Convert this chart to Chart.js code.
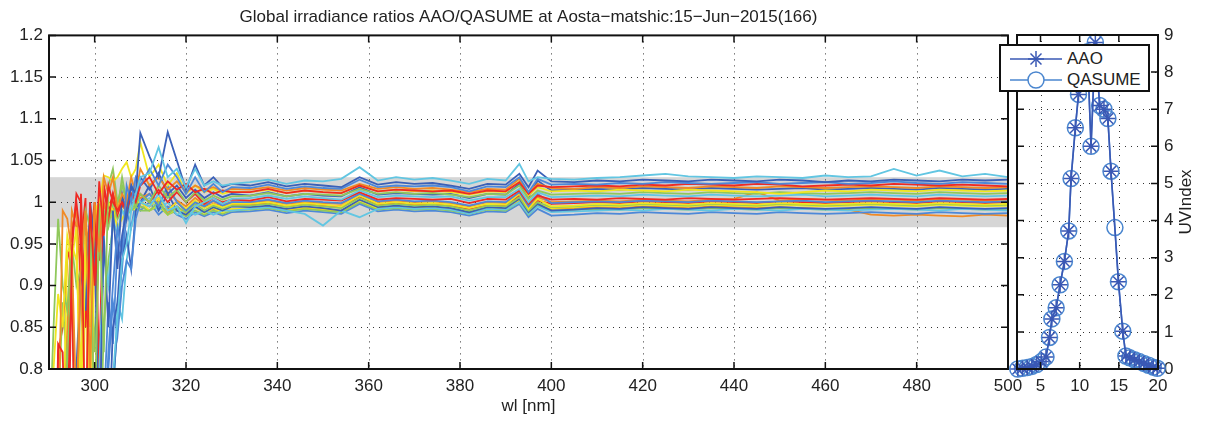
<!DOCTYPE html>
<html>
<head>
<meta charset="utf-8">
<script src="https://cdn.jsdelivr.net/npm/chart.js@4"></script>
<style>
  html, body { margin: 0; padding: 0; background: #fff; }
  #wrap { position: relative; width: 1213px; height: 423px; overflow: hidden; }
  #wrap canvas { position: absolute; left: 0; top: 0; }
  #legend {
    position: absolute; left: 999px; top: 44px; width: 151px; height: 48px;
    box-sizing: border-box; border: 2px solid #111; background: #fff;
    font: 17px "Liberation Sans", Arial, sans-serif; color: #222;
  }
  #legend .row { position: absolute; left: 9px; height: 20px; display: flex; align-items: center; }
  #legend .row span { margin-left: 5px; }
</style>
</head>
<body>
<div id="wrap">
  <canvas id="ratioChart" width="1213" height="423"></canvas>
  <canvas id="uvChart" width="1213" height="423"></canvas>
  <div id="legend">
    <div class="row" style="top:3px">
      <svg width="52" height="20"><g stroke="#3a58b4" stroke-width="1.5">
        <line x1="0" y1="10" x2="52" y2="10"/>
        <line x1="26" y1="2" x2="26" y2="18"/><line x1="18" y1="10" x2="34" y2="10"/>
        <line x1="20.5" y1="4.5" x2="31.5" y2="15.5"/><line x1="20.5" y1="15.5" x2="31.5" y2="4.5"/></g></svg>
      <span>AAO</span>
    </div>
    <div class="row" style="top:24px">
      <svg width="52" height="20"><g stroke="#4a86cf" stroke-width="1.5" fill="none">
        <line x1="0" y1="10" x2="18" y2="10"/><line x1="34" y1="10" x2="52" y2="10"/>
        <circle cx="26" cy="10" r="8"/></g></svg>
      <span>QASUME</span>
    </div>
  </div>
</div>
<script>
const FONT = '"Liberation Sans", Arial, sans-serif';
const titleText = 'Global irradiance ratios AAO/QASUME at Aosta\u2212matshic:15\u2212Jun\u22122015(166)';

// wavelength grid [nm]
const wl = [290, 291, 292, 293, 294, 295, 296, 297, 298, 299, 300, 301, 302, 303, 304, 305, 306, 307, 308, 309, 310,
  312, 314, 316, 318, 320, 322, 324, 326, 328, 330,
  334, 338, 342, 346, 350, 354, 358, 362, 366, 370, 374, 378, 382, 386, 390, 393, 395, 397,
  400, 405, 410, 415, 420, 425, 430, 435, 440, 445, 450, 455, 460, 465, 470, 475, 480, 485, 490, 495, 500];

const xTicks = [300, 320, 340, 360, 380, 400, 420, 440, 460, 480, 500];
const yTicks = [0.8, 0.85, 0.9, 0.95, 1, 1.05, 1.1, 1.15, 1.2];
const yTickLabels = ['0.8', '0.85', '0.9', '0.95', '1', '1.05', '1.1', '1.15', '1.2'];
const bandLimits = [0.97, 1.03];

// ratio AAO/QASUME per scan
const ratio01 = [0.5,0.5,0.5,0.5,0.5,0.5,0.5,0.5,0.5,0.5,0.5,0.5,0.5,0.6,0.79,0.86,0.93,0.95,0.99,1.01,1.03,
  1.035,1.066,1.03,1.04,1.018,1.04,1.02,1.025,1.02,1.022,
  1.024,1.027,1.022,1.026,1.025,1.028,1.042,1.026,1.03,1.027,1.029,1.026,1.022,1.028,1.026,1.046,1.025,1.03,
  1.028,1.027,1.029,1.03,1.032,1.034,1.031,1.03,1.029,1.031,1.03,1.029,1.032,1.03,1.031,1.04,1.032,1.038,1.031,1.034,1.03];
const ratio02 = [0.5,0.5,0.5,0.5,0.5,0.5,0.5,0.5,0.5,0.5,0.5,0.5,0.5,0.7,0.85,0.88,0.96,0.99,1.02,1.01,1.083,
  1.055,1.03,1.084,1.05,1.015,1.045,1.02,1.03,1.018,1.022,
  1.02,1.024,1.019,1.022,1.02,1.018,1.03,1.021,1.024,1.022,1.023,1.02,1.016,1.022,1.021,1.034,1.018,1.038,
  1.025,1.024,1.026,1.025,1.027,1.026,1.025,1.027,1.026,1.025,1.027,1.026,1.024,1.026,1.025,1.027,1.026,1.025,1.027,1.026,1.027];
const ratio03 = [0.5,0.5,0.5,0.5,0.5,0.5,0.5,0.5,0.5,0.5,0.5,0.5,0.7,0.82,0.9,0.97,0.94,1.02,1.0,1.03,1.02,
  1.04,1.02,1.045,1.03,1.01,1.03,1.012,1.022,1.012,1.018,
  1.017,1.021,1.016,1.019,1.017,1.016,1.027,1.018,1.02,1.019,1.02,1.018,1.013,1.019,1.018,1.03,1.012,1.028,
  1.021,1.022,1.021,1.023,1.022,1.024,1.023,1.022,1.023,1.024,1.022,1.023,1.024,1.022,1.023,1.025,1.023,1.022,1.024,1.023,1.022];
const ratio04 = [0.5,0.5,0.83,0.82,0.6,0.94,1.01,1.0,0.7,1.0,0.9,1.025,0.96,1.02,1.0,0.99,1.0,0.99,1.01,1.0,1.02,
  1.03,1.01,1.025,1.015,1.022,1.012,1.016,1.01,1.014,1.012,
  1.012,1.016,1.011,1.014,1.012,1.011,1.02,1.013,1.015,1.014,1.013,1.014,1.01,1.014,1.013,1.024,1.01,1.02,
  1.018,1.019,1.02,1.019,1.021,1.02,1.022,1.021,1.02,1.022,1.021,1.019,1.02,1.021,1.02,1.022,1.021,1.02,1.021,1.02,1.019];
const ratio05 = [0.5,0.6,0.7,0.99,0.98,0.94,0.75,0.93,0.99,0.8,1.0,0.94,1.03,1.01,1.03,0.99,1.01,1.0,1.03,1.01,1.04,
  1.02,1.03,1.015,1.025,1.012,1.02,1.015,1.018,1.013,1.016,
  1.015,1.018,1.014,1.017,1.015,1.014,1.022,1.016,1.018,1.016,1.017,1.015,1.012,1.016,1.015,1.028,1.011,1.022,
  1.017,1.016,1.018,1.017,1.019,1.018,1.017,1.019,1.018,1.017,1.019,1.018,1.017,1.018,1.019,1.018,1.017,1.019,1.018,1.017,1.018];
const ratio06 = [0.5,0.8,0.89,0.85,0.96,0.93,0.97,0.7,0.95,0.85,0.99,1.0,1.032,1.03,1.025,1.03,1.04,1.048,1.03,1.04,1.072,
  1.03,1.045,1.02,1.035,1.01,1.02,1.012,1.016,1.01,1.013,
  1.012,1.015,1.011,1.014,1.012,1.011,1.02,1.013,1.015,1.013,1.014,1.012,1.009,1.013,1.012,1.025,1.008,1.018,
  1.013,1.014,1.013,1.015,1.014,1.013,1.015,1.014,1.013,1.012,1.01,1.012,1.014,1.013,1.015,1.014,1.013,1.015,1.014,1.013,1.014];
const ratio07 = [0.7,0.85,0.98,0.9,0.87,0.95,0.9,0.92,0.99,0.97,0.72,1.0,0.82,1.02,1.04,1.0,1.02,1.0,1.01,0.995,1.01,
  1.0,1.02,1.005,1.015,1.0,1.012,1.002,1.008,1.003,1.007,
  1.008,1.011,1.007,1.01,1.009,1.008,1.016,1.01,1.012,1.01,1.011,1.009,1.006,1.01,1.009,1.02,1.004,1.014,
  1.009,1.01,1.011,1.01,1.012,1.011,1.01,1.012,1.011,1.01,1.012,1.011,1.01,1.011,1.012,1.011,1.01,1.012,1.011,1.01,1.011];
const ratio08 = [0.5,0.5,0.5,0.5,0.5,0.6,0.8,0.92,0.87,1.0,0.95,0.7,0.96,0.85,0.99,0.92,1.01,0.98,1.02,1.0,1.03,
  1.015,1.035,1.01,1.02,1.005,1.015,1.005,1.012,1.006,1.01,
  1.008,1.012,1.007,1.01,1.008,1.007,1.018,1.009,1.011,1.01,1.009,1.01,1.005,1.01,1.009,1.022,1.006,1.026,
  1.014,1.015,1.016,1.015,1.017,1.016,1.015,1.017,1.016,1.015,1.016,1.017,1.015,1.016,1.017,1.016,1.015,1.017,1.016,1.015,1.016];
const ratio09 = [0.5,0.5,0.5,0.5,0.5,0.5,0.5,0.5,0.5,0.5,0.6,0.8,0.94,0.9,0.98,0.96,0.99,0.98,1.0,1.01,1.0,
  0.995,1.01,0.99,0.995,0.975,0.995,1.0,1.005,0.998,1.004,
  1.005,1.008,1.004,1.007,1.005,1.003,1.014,1.006,1.008,1.007,1.006,1.007,1.002,1.006,1.006,1.016,1.0,1.012,
  1.006,1.007,1.008,1.007,1.009,1.008,1.007,1.009,1.008,1.007,1.008,1.009,1.007,1.008,1.009,1.008,1.007,1.009,1.008,1.007,1.008];
const ratio10 = [0.5,0.5,0.5,0.6,0.75,0.9,0.6,1.01,0.85,0.95,1.0,0.8,1.02,0.98,1.01,0.985,1.0,0.99,1.005,1.0,1.01,
  1.0,1.015,1.0,1.012,1.0,1.01,0.998,1.005,1.0,1.003,
  1.002,1.006,1.001,1.004,1.003,1.002,1.012,1.003,1.005,1.004,1.003,1.004,0.999,1.004,1.003,1.014,0.998,1.008,
  1.003,1.004,1.003,1.005,1.004,1.003,1.005,1.004,1.003,1.004,1.005,1.004,1.003,1.004,1.005,1.004,1.003,1.005,1.004,1.003,1.004];
const ratio11 = [0.5,0.5,0.5,0.5,0.5,0.5,0.5,0.5,0.5,0.5,0.5,0.5,0.7,0.8,0.88,0.84,0.9,0.93,0.92,0.98,1.0,
  1.01,0.995,1.02,1.0,0.99,1.0,0.995,1.002,0.996,1.0,
  1.0,1.003,0.999,1.002,1.0,0.999,1.01,1.001,1.003,1.001,1.002,1.0,0.996,1.001,1.0,1.012,0.995,1.01,
  0.999,1.0,1.001,1.0,1.002,1.001,1.0,1.002,1.001,1.0,1.001,1.002,1.0,1.001,1.002,1.001,1.0,1.002,1.001,1.0,1.001];
const ratio12 = [0.5,0.5,0.6,0.7,0.94,0.95,0.93,0.8,0.96,0.65,0.98,1.0,0.97,1.0,0.99,0.97,0.98,0.99,0.995,1.0,1.0,
  0.995,1.005,0.99,1.0,0.992,1.002,0.993,0.998,0.994,0.998,
  0.998,1.0,0.996,0.999,0.997,0.995,1.008,0.998,1.0,0.998,0.999,0.997,0.993,0.998,0.997,1.01,0.992,1.004,
  0.995,0.996,0.998,0.997,0.999,0.998,0.997,0.999,0.998,0.997,0.999,0.998,0.997,0.998,0.999,0.998,0.997,0.999,0.998,0.997,0.998];
const ratio13 = [0.5,0.6,0.75,0.88,0.8,0.93,0.6,0.96,0.88,0.99,0.82,0.95,0.99,0.97,1.0,0.98,0.99,0.985,0.99,0.995,0.99,
  0.99,1.0,0.985,0.995,0.988,0.998,0.99,0.996,0.992,0.996,
  0.996,0.998,0.994,0.997,0.995,0.993,1.005,0.996,0.998,0.996,0.997,0.995,0.99,0.996,0.995,1.006,0.99,1.0,
  0.994,0.995,0.997,0.996,0.998,0.997,0.996,0.998,0.997,0.996,0.998,0.997,0.996,0.997,0.998,0.997,0.996,0.998,0.997,0.996,0.997];
const ratio14 = [0.5,0.5,0.5,0.7,0.85,0.99,0.97,0.75,0.98,0.93,0.7,1.0,0.98,1.0,0.99,1.0,1.005,0.995,1.01,1.0,1.005,
  1.01,1.0,1.012,1.002,0.995,1.005,0.997,1.001,0.997,1.0,
  0.999,1.002,0.998,1.0,0.999,0.998,1.009,1.0,1.002,1.0,1.001,0.999,0.995,1.0,0.999,1.011,0.994,1.006,
  1.0,1.001,1.002,1.001,1.003,1.002,1.001,1.003,1.004,1.012,1.002,1.004,1.003,1.002,1.004,1.003,1.002,1.004,1.003,1.002,1.003];
const ratio15 = [0.5,0.5,0.5,0.5,0.5,0.5,0.5,0.5,0.5,0.5,0.5,0.5,0.5,0.6,0.78,0.85,0.93,0.96,0.92,0.99,1.0,
  1.02,0.99,1.01,0.99,0.985,0.995,0.988,0.994,0.99,0.995,
  0.994,0.996,0.992,0.995,0.993,0.99,1.003,0.994,0.996,0.994,0.995,0.993,0.988,0.994,0.993,1.004,0.988,0.998,
  0.99,0.991,0.993,0.992,0.994,0.993,0.992,0.994,0.993,0.992,0.994,0.993,0.992,0.993,0.994,0.993,0.992,0.994,0.993,0.992,0.993];
const ratio16 = [0.5,0.5,0.5,0.5,0.5,0.5,0.5,0.5,0.5,0.5,0.5,0.5,0.5,0.5,0.75,0.88,0.86,0.93,0.97,0.99,1.0,
  1.005,0.99,1.0,0.985,0.99,0.985,0.99,0.985,0.99,0.99,
  0.992,0.994,0.99,0.986,0.972,0.99,0.982,0.992,0.994,0.992,0.993,0.991,0.986,0.992,0.991,1.0,0.986,0.995,
  0.988,0.989,0.99,0.991,0.99,0.992,0.991,0.99,0.992,0.991,0.99,0.992,0.991,0.99,0.991,0.992,0.991,0.99,0.992,0.991,0.99];
const ratio17 = [0.5,0.5,0.5,0.5,0.5,0.5,0.5,0.65,0.9,0.8,0.96,0.99,0.97,0.99,0.98,1.0,0.99,0.985,0.995,0.99,1.0,
  0.99,0.998,0.985,0.993,0.985,0.994,0.987,0.993,0.988,0.992,
  0.993,0.995,0.991,0.994,0.992,0.99,1.002,0.993,0.995,0.993,0.994,0.992,0.988,0.993,0.992,1.003,0.987,0.998,
  0.993,0.994,0.996,0.995,0.997,0.996,0.995,0.997,0.996,0.995,0.997,0.996,0.995,0.996,0.997,0.996,0.995,0.997,0.996,0.995,0.996];
const ratio18 = [0.5,0.5,0.5,0.5,0.5,0.5,0.5,0.5,0.5,0.5,0.5,0.65,0.85,0.93,0.97,0.99,1.03,1.0,0.99,1.0,0.995,
  0.99,0.995,0.985,0.99,0.983,0.99,0.985,0.99,0.986,0.99,
  0.991,0.993,0.989,0.992,0.99,0.988,1.0,0.991,0.993,0.991,0.992,0.99,0.986,0.991,0.99,1.0,0.985,0.996,
  0.99,0.991,0.992,0.991,0.993,0.992,0.991,0.993,0.992,0.991,0.993,0.992,0.991,0.992,0.993,0.992,0.991,0.993,0.992,0.991,0.992];
const ratio19 = [0.5,0.5,0.5,0.5,0.5,0.5,0.5,0.5,0.5,0.5,0.5,0.5,0.75,0.88,0.83,0.95,0.92,0.99,0.97,1.0,0.99,
  1.0,0.985,0.995,0.985,0.98,0.988,0.983,0.988,0.984,0.988,
  0.989,0.991,0.987,0.99,0.988,0.986,0.998,0.989,0.991,0.989,0.99,0.988,0.984,0.989,0.988,0.998,0.982,0.992,
  0.984,0.985,0.987,0.986,0.988,0.987,0.986,0.988,0.987,0.986,0.988,0.987,0.986,0.987,0.988,0.987,0.986,0.988,0.987,0.986,0.987];
const ratio20 = [0.5,0.5,0.82,0.85,0.93,0.96,1.0,0.95,1.005,0.6,1.0,0.93,1.02,0.99,1.01,0.99,0.995,1.0,1.0,0.995,1.0,
  0.995,1.005,0.992,1.0,0.99,1.0,0.994,0.998,0.995,0.998,
  0.997,0.999,0.995,0.998,0.996,0.995,1.006,0.997,0.999,0.997,0.998,0.996,0.992,0.997,0.996,1.008,0.992,1.002,
  0.998,0.999,1.0,0.999,1.001,1.0,0.999,1.001,1.0,0.999,1.001,1.0,0.999,1.0,1.001,1.0,0.999,1.001,1.0,0.999,1.0];
const ratio21 = [0.5,0.5,0.5,0.6,0.8,0.97,0.99,0.9,0.7,0.97,0.99,0.75,1.0,0.98,1.0,0.99,0.995,0.99,1.0,0.995,0.995,
  0.99,0.998,0.988,0.995,0.986,0.994,0.988,0.992,0.989,0.992,
  0.992,0.994,0.99,0.993,0.991,0.989,1.0,0.992,0.994,0.992,0.993,0.991,0.987,0.992,0.991,1.002,0.986,0.996,
  0.992,0.993,0.994,0.993,0.995,0.994,0.993,0.995,0.994,0.993,0.994,0.993,0.992,0.991,0.985,0.984,0.985,0.984,0.983,0.985,0.984];

const ratioSeries = [ratio01, ratio02, ratio03, ratio04, ratio05, ratio06, ratio07, ratio08, ratio09, ratio10,
  ratio11, ratio12, ratio13, ratio14, ratio15, ratio16, ratio17, ratio18, ratio19, ratio20, ratio21];

const darkBlue = '#3a60b8', blue = '#4d88d8', cyan = '#62c6e2', green = '#90c85c',
  yellow = '#f0e620', orange = '#f08a26', red = '#ee2a24';
const seriesColors = [cyan, darkBlue, blue, red, orange, yellow, green, darkBlue, cyan, red,
  blue, yellow, green, orange, darkBlue, cyan, yellow, green, blue, red, orange];

// UV index over the day
const uvTime = [2.1, 2.7, 3.3, 3.9, 4.5, 5.1, 5.7, 6.15, 6.45, 7.0, 7.5, 8.05, 8.6, 8.9, 9.45, 9.85, 10.5, 11.0, 11.45,
  12.0, 12.55, 13.1, 13.6, 14.0, 14.5, 14.95, 15.5, 15.9, 16.4, 17.0, 17.6, 18.2, 18.8, 19.4, 19.9];
const uvQasume = [0.0, 0.02, 0.04, 0.07, 0.12, 0.2, 0.32, 0.85, 1.35, 1.65, 2.27, 2.9, 3.72, 5.13, 6.5, 7.4, 8.1, 8.55, 6.0,
  8.8, 7.1, 7.0, 6.75, 5.33, 3.81, 2.35, 1.02, 0.35, 0.3, 0.25, 0.2, 0.15, 0.1, 0.05, 0.02];
const uvAao = [0.0, 0.02, 0.04, 0.07, 0.12, 0.2, 0.32, 0.85, 1.35, 1.65, 2.27, 2.9, 3.72, 5.13, 6.5, 7.4, 8.1, 8.55, 6.0,
  8.8, 7.1, 7.0, 6.75, 5.33, null, 2.35, 1.02, 0.35, 0.3, 0.25, 0.2, 0.15, 0.1, 0.05, 0.02];
const uvXTicks = [5, 10, 15, 20];
const uvYTicks = [0, 1, 2, 3, 4, 5, 6, 7, 8, 9];

// grey band, dotted grid, boxed axes with inward ticks
const framePlugin = {
  id: 'frame',
  beforeDraw(chart, args, opts) {
    const a = chart.chartArea, ctx = chart.ctx;
    const xs = chart.scales.x, ys = chart.scales.y;
    ctx.save();
    if (opts.band) {
      const yTop = ys.getPixelForValue(opts.band[1]);
      const yBot = ys.getPixelForValue(opts.band[0]);
      ctx.fillStyle = '#d6d6d6';
      ctx.fillRect(a.left, yTop, a.right - a.left, yBot - yTop);
    }
    ctx.strokeStyle = '#333';
    ctx.lineWidth = 1;
    ctx.setLineDash([1, 5]);
    ctx.beginPath();
    xs.ticks.forEach(t => {
      const px = Math.round(xs.getPixelForValue(t.value)) + 0.5;
      if (px > a.left + 2 && px < a.right - 2) { ctx.moveTo(px, a.top); ctx.lineTo(px, a.bottom); }
    });
    ys.ticks.forEach(t => {
      const py = Math.round(ys.getPixelForValue(t.value)) + 0.5;
      if (py > a.top + 2 && py < a.bottom - 2) { ctx.moveTo(a.left, py); ctx.lineTo(a.right, py); }
    });
    ctx.stroke();
    ctx.restore();
  },
  afterDraw(chart, args, opts) {
    const a = chart.chartArea, ctx = chart.ctx;
    const xs = chart.scales.x, ys = chart.scales.y;
    const len = 7;
    ctx.save();
    ctx.strokeStyle = '#111';
    ctx.lineWidth = 1.5;
    ctx.beginPath();
    xs.ticks.forEach(t => {
      const px = xs.getPixelForValue(t.value);
      ctx.moveTo(px, a.bottom); ctx.lineTo(px, a.bottom - len);
      ctx.moveTo(px, a.top); ctx.lineTo(px, a.top + len);
    });
    ys.ticks.forEach(t => {
      const py = ys.getPixelForValue(t.value);
      ctx.moveTo(a.left, py); ctx.lineTo(a.left + len, py);
      ctx.moveTo(a.right, py); ctx.lineTo(a.right - len, py);
    });
    ctx.stroke();
    ctx.lineWidth = 2;
    ctx.strokeRect(a.left, a.top, a.right - a.left, a.bottom - a.top);
    if (opts.yTitle) {
      ctx.translate(a.right + 28, (a.top + a.bottom) / 2);
      ctx.rotate(-Math.PI / 2);
      ctx.fillStyle = '#222';
      ctx.font = '17px ' + FONT;
      ctx.textAlign = 'center';
      ctx.textBaseline = 'middle';
      ctx.fillText(opts.yTitle, 0, 0);
    }
    ctx.restore();
  }
};

document.addEventListener('DOMContentLoaded', function() {
  Chart.defaults.font.family = FONT;
  Chart.defaults.font.size = 17;
  Chart.defaults.color = '#222';

  const tickFont = { size: 17, family: FONT };

  // Ratio spectra
  new Chart(document.getElementById('ratioChart'), {
    type: 'line',
    data: {
      datasets: ratioSeries.map((r, i) => ({
        data: r.map((v, j) => ({ x: wl[j], y: v })),
        borderColor: seriesColors[i],
        borderWidth: 1.8,
        pointRadius: 0,
        tension: 0
      }))
    },
    options: {
      responsive: false,
      animation: false,
      devicePixelRatio: 1,
      layout: { padding: { left: 0, right: 205, top: 0, bottom: 0 } },
      plugins: {
        legend: { display: false },
        tooltip: { enabled: false },
        title: {
          display: true, text: titleText, fullSize: false,
          font: { size: 17, weight: 'normal', family: FONT }, color: '#222',
          padding: { top: 7, bottom: 8 }
        },
        frame: { band: bandLimits }
      },
      scales: {
        x: {
          type: 'linear', min: 290, max: 500,
          afterBuildTicks: s => { s.ticks = xTicks.map(v => ({ value: v })); },
          afterFit: s => { s.height = 54; },
          grid: { display: false, drawTicks: false },
          border: { display: false },
          ticks: { font: tickFont, padding: 7, maxRotation: 0 },
          title: { display: true, text: 'wl [nm]', font: tickFont, padding: { top: 0, bottom: 6 } }
        },
        y: {
          min: 0.8, max: 1.2,
          afterBuildTicks: s => { s.ticks = yTicks.map(v => ({ value: v })); },
          afterFit: s => { s.width = 49; },
          grid: { display: false, drawTicks: false },
          border: { display: false },
          ticks: { font: tickFont, padding: 6, callback: (v, i) => yTickLabels[i] }
        }
      }
    },
    plugins: [framePlugin]
  });

  // UV index panel
  new Chart(document.getElementById('uvChart'), {
    type: 'line',
    data: {
      datasets: [
        {
          label: 'AAO',
          data: uvTime.map((t, i) => ({ x: t, y: uvAao[i] })),
          borderColor: '#3a58b4', borderWidth: 1.6,
          pointStyle: 'star', pointRadius: 7.5, pointBorderWidth: 1.5,
          pointBorderColor: '#3a58b4', pointBackgroundColor: 'rgba(0,0,0,0)',
          spanGaps: true, clip: false, tension: 0
        },
        {
          label: 'QASUME',
          data: uvTime.map((t, i) => ({ x: t, y: uvQasume[i] })),
          borderColor: '#4a86cf', borderWidth: 1.6,
          pointStyle: 'circle', pointRadius: 8, pointBorderWidth: 1.5,
          pointBorderColor: '#4a86cf', pointBackgroundColor: 'rgba(0,0,0,0)',
          clip: false, tension: 0
        }
      ]
    },
    options: {
      responsive: false,
      animation: false,
      devicePixelRatio: 1,
      layout: { padding: { left: 1017, right: 0, top: 35, bottom: 0 } },
      plugins: {
        legend: { display: false },
        tooltip: { enabled: false },
        frame: { yTitle: 'UVIndex' }
      },
      scales: {
        x: {
          type: 'linear', min: 2, max: 20,
          afterBuildTicks: s => { s.ticks = uvXTicks.map(v => ({ value: v })); },
          afterFit: s => { s.height = 54; },
          grid: { display: false, drawTicks: false },
          border: { display: false },
          ticks: { font: tickFont, padding: 7, maxRotation: 0 }
        },
        y: {
          position: 'right', min: 0, max: 9,
          afterBuildTicks: s => { s.ticks = uvYTicks.map(v => ({ value: v })); },
          afterFit: s => { s.width = 55; },
          grid: { display: false, drawTicks: false },
          border: { display: false },
          ticks: { font: tickFont, padding: 6 }
        }
      }
    },
    plugins: [framePlugin]
  });
});
</script>
</body>
</html>
